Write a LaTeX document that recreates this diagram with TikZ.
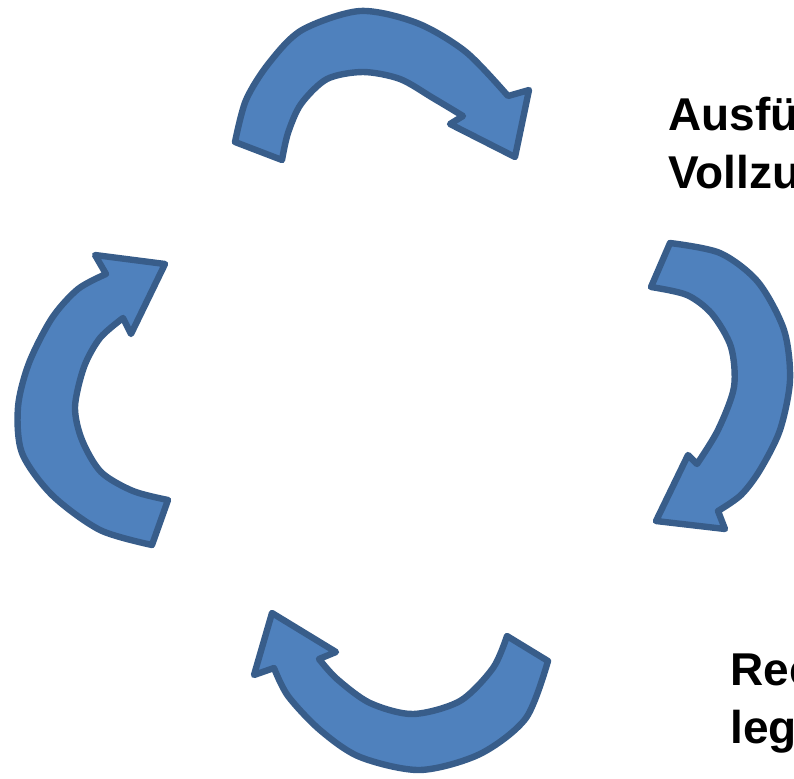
\documentclass[tikz,border=0pt]{standalone}
\usepackage{fontspec}
\setmainfont{Liberation Sans}
\definecolor{arrowfill}{HTML}{4F81BD}
\definecolor{arrowline}{HTML}{385D8A}

\begin{document}
\begin{tikzpicture}[x=0.5pt,y=-0.5pt,line join=round,
    cyclearrow/.style={fill=arrowfill,draw=arrowline,line width=3.2pt},
    steplabel/.style={anchor=base west,inner sep=0pt,font=\fontsize{23}{28}\selectfont\bfseries}]
        % page frame, the labels run off the right edge
        \useasboundingbox (0,0) rectangle (794,778);
        \clip (0,0) rectangle (794,778);

        % top arrow
        \draw[cyclearrow]
            plot[smooth] coordinates {(235,142) (246,100) (269,63) (302,30) (360,11) (417,23) (466,52) (508,96)}
            -- (529,90) -- (515,157) -- (450,124)
            -- plot[smooth] coordinates {(463,116) (433,98) (400,79) (363,72) (327,79) (301,104) (288,133) (282,160)}
            -- cycle;

        % right arrow
        \draw[cyclearrow]
            plot[smooth] coordinates {(670,243) (720,253) (758,282) (784,330) (790,380) (780,430) (760,470) (741,495) (718,511)}
            -- (725,529) -- (656,521) -- (688,455)
            -- plot[smooth] coordinates {(697,464) (718,430) (734,387) (731,347) (712,314) (687,295) (651,287)}
            -- cycle;

        % bottom arrow
        \draw[cyclearrow]
            plot[smooth] coordinates {(548,661) (526,718) (480,754) (420,770) (360,757) (320,730) (288,696) (274,668)}
            -- (254,675) -- (272,613) -- (336,652)
            -- plot[smooth] coordinates {(319,659) (337,679) (370,703) (413,714) (460,701) (493,668) (507,636)}
            -- cycle;

        % left arrow
        \draw[cyclearrow]
            plot[smooth] coordinates {(152,545) (100,530) (52,495) (22,453) (18,407) (29,363) (52,318) (78,289) (106,274)}
            -- (95,255) -- (165,264) -- (131,334)
            -- plot[smooth] coordinates {(123,318) (100,338) (84,367) (75,407) (82,440) (101,472) (133,491) (168,500)}
            -- cycle;

        % labels
        \node[steplabel] (ausf) at (668,130) {Ausfü};
        \node[steplabel] (vollz) at (668,188) {Vollzu};
        \node[steplabel] (rec) at (730,685) {Rec};
        \node[steplabel] (leg) at (730,743) {leg};
\end{tikzpicture}
\end{document}
